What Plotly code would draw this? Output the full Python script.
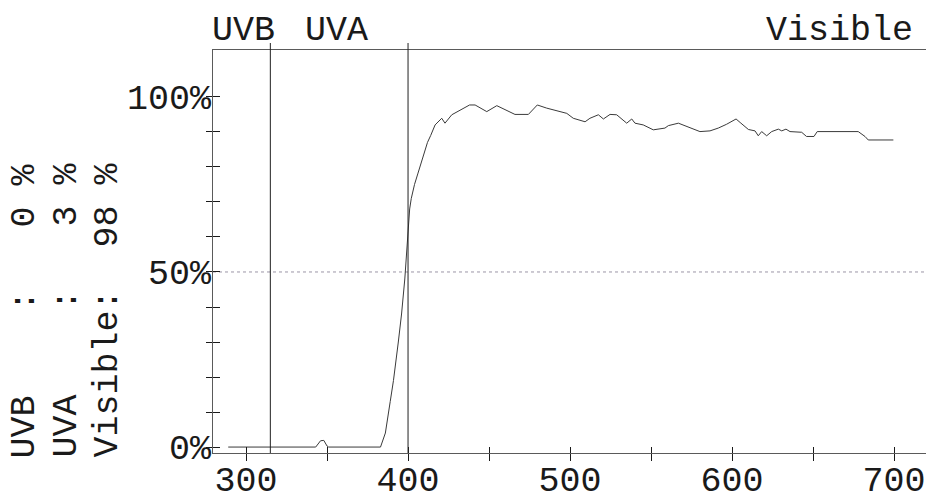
import plotly.graph_objects as go

# ---- data ----
wavelength_nm = [289, 340, 343, 346, 348, 350, 351, 383, 386, 389, 391, 394, 396, 398, 399,
                 400, 401, 402, 404, 406, 408, 410.5, 412, 414, 416.7, 420.8, 422.8, 427, 433,
                 438, 441.4, 448.6, 454.8, 460, 466, 474.3, 479.8, 485.6, 492.8, 498, 502, 506,
                 509.3, 512.3, 517.5, 520.6, 524.7, 528.8, 532.9, 535, 538.1, 540.1, 545.2,
                 551.4, 558.6, 560.7, 566.9, 574.1, 580.2, 586.4, 591.5, 596.7, 602.5, 605,
                 610.1, 614.2, 616.2, 618.3, 621.4, 624.5, 628.6, 630.7, 633.3, 635.8, 643,
                 646, 650.6, 652.6, 677.9, 682.1, 684.1, 699.6]
transmission_pct = [0, 0, 0, 1.8, 1.9, 0.3, 0, 0, 4, 13, 19, 30, 38, 48, 55,
                    63, 68, 71, 75, 78, 81, 84.5, 87, 89, 92, 93.9, 92.5, 94.9, 96.3,
                    97.7, 97.7, 95.8, 97.5, 96.3, 95, 95, 97.7, 96.8, 95.8, 95.3, 93.9, 93.4,
                    92.9, 93.9, 94.9, 93.7, 95, 94.9, 93.4, 92.5, 93.7, 92.5, 92,
                    90.6, 91.1, 91.8, 92.5, 91.1, 90.1, 90.3, 91.1, 92.2, 93.7, 92.7,
                    90.7, 90.3, 88.9, 90.1, 88.9, 90.1, 90.8, 90.3, 90.8, 90.1, 89.9,
                    88.7, 88.7, 90.1, 90.1, 88.7, 87.7, 87.7]

band_boundaries_nm = [315, 400]
band_names = ["UVB", "UVA", "Visible"]
band_values_pct = [0, 3, 98]
reference_levels_pct = [50]

x_tick_values = [300, 350, 400, 450, 500, 550, 600, 650, 700]
x_tick_labels = ["300", "", "400", "", "500", "", "600", "", "700"]
y_tick_values = [0, 10, 20, 30, 40, 50, 60, 70, 80, 90, 100]
y_tick_labels = ["0%", "", "", "", "", "50%", "", "", "", "", "100%"]

X_RANGE = [279.6, 719.75]
Y_RANGE = [-1.7, 113.4]

W, H = 926, 497
ML, MR, MT, MB = 213, 0, 50, 44
PW, PH = W - ML - MR, H - MT - MB


def px_x(px):
    return (px - ML) / PW


def px_y(py):
    return (H - MB - py) / PH


FONT = "Liberation Mono, DejaVu Sans Mono, monospace"
INK = "#1a1a1a"
AXIS = "#5a5a5a"

fig = go.Figure()
fig.add_trace(go.Scatter(x=wavelength_nm, y=transmission_pct, mode="lines",
                         line=dict(color="#3a3a3a", width=1), hoverinfo="skip"))
# dummy trace so the overlay axes (inner half of the crossing ticks) are drawn
fig.add_trace(go.Scatter(x=[], y=[], xaxis="x2", yaxis="y2", mode="lines", hoverinfo="skip"))

axis_common = dict(showgrid=False, zeroline=False, automargin=False)
fig.update_layout(
    width=W, height=H,
    margin=dict(l=ML, r=MR, t=MT, b=MB, pad=0, autoexpand=False),
    plot_bgcolor="white", paper_bgcolor="white",
    showlegend=False,
    font=dict(family=FONT, size=35, color=INK),
    xaxis=dict(range=X_RANGE, tickmode="array", tickvals=x_tick_values, ticktext=x_tick_labels,
               ticks="outside", ticklen=7, tickwidth=1, tickcolor=INK,
               showline=True, linecolor=AXIS, linewidth=1, mirror=True,
               tickfont=dict(family=FONT, size=35, color=INK), ticklabelstandoff=-12,
               **axis_common),
    yaxis=dict(range=Y_RANGE, tickmode="array", tickvals=y_tick_values, ticktext=y_tick_labels,
               ticks="outside", ticklen=6, tickwidth=1, tickcolor=INK,
               showline=True, linecolor=AXIS, linewidth=1,
               tickfont=dict(family=FONT, size=35, color=INK), ticklabelstandoff=-12,
               **axis_common),
    xaxis2=dict(range=X_RANGE, overlaying="x", anchor="y2", side="bottom",
                tickmode="array", tickvals=x_tick_values, showticklabels=False,
                ticks="inside", ticklen=6, tickwidth=1, tickcolor=INK, showline=False,
                **axis_common),
    yaxis2=dict(range=Y_RANGE, overlaying="y", anchor="x2", side="left",
                tickmode="array", tickvals=y_tick_values, showticklabels=False,
                ticks="inside", ticklen=7, tickwidth=1, tickcolor=INK, showline=False,
                **axis_common),
)

# reference gridline(s)
for lvl in reference_levels_pct:
    fig.add_shape(type="line", xref="paper", yref="y", x0=0, x1=1, y0=lvl, y1=lvl,
                  line=dict(color="#9c96a6", width=1, dash="dot"), layer="below")

# band boundaries (extend slightly above the top frame)
for b in band_boundaries_nm:
    fig.add_shape(type="line", xref="x", yref="paper", x0=b, x1=b, y0=0, y1=1 + 7 / PH,
                  line=dict(color="#202020", width=1))

# band labels on top
top_pos = [(243, "center"), (336, "center"), (915, "right")]
for name, (xp, anc) in zip(band_names, top_pos):
    fig.add_annotation(text=name, xref="paper", yref="paper", x=px_x(xp), y=px_y(31),
                       xanchor=anc, yanchor="middle", showarrow=False,
                       font=dict(family=FONT, size=35, color=INK))

# rotated summary on the left
col_x = [24, 66, 107]
for name, val, cx in zip(band_names, band_values_pct, col_x):
    s = f"{name:<7}:{val:>4} %".replace(" ", "\u00a0")
    fig.add_annotation(text=s, xref="paper", yref="paper", x=px_x(cx), y=px_y(460),
                       xanchor="center", yanchor="bottom", textangle=-90, showarrow=False,
                       font=dict(family=FONT, size=35, color=INK))

fig.write_html("out.html",
               config={"displayModeBar": False, "staticPlot": True},
               post_script="document.body.style.margin='0';document.body.style.overflow='hidden';")
